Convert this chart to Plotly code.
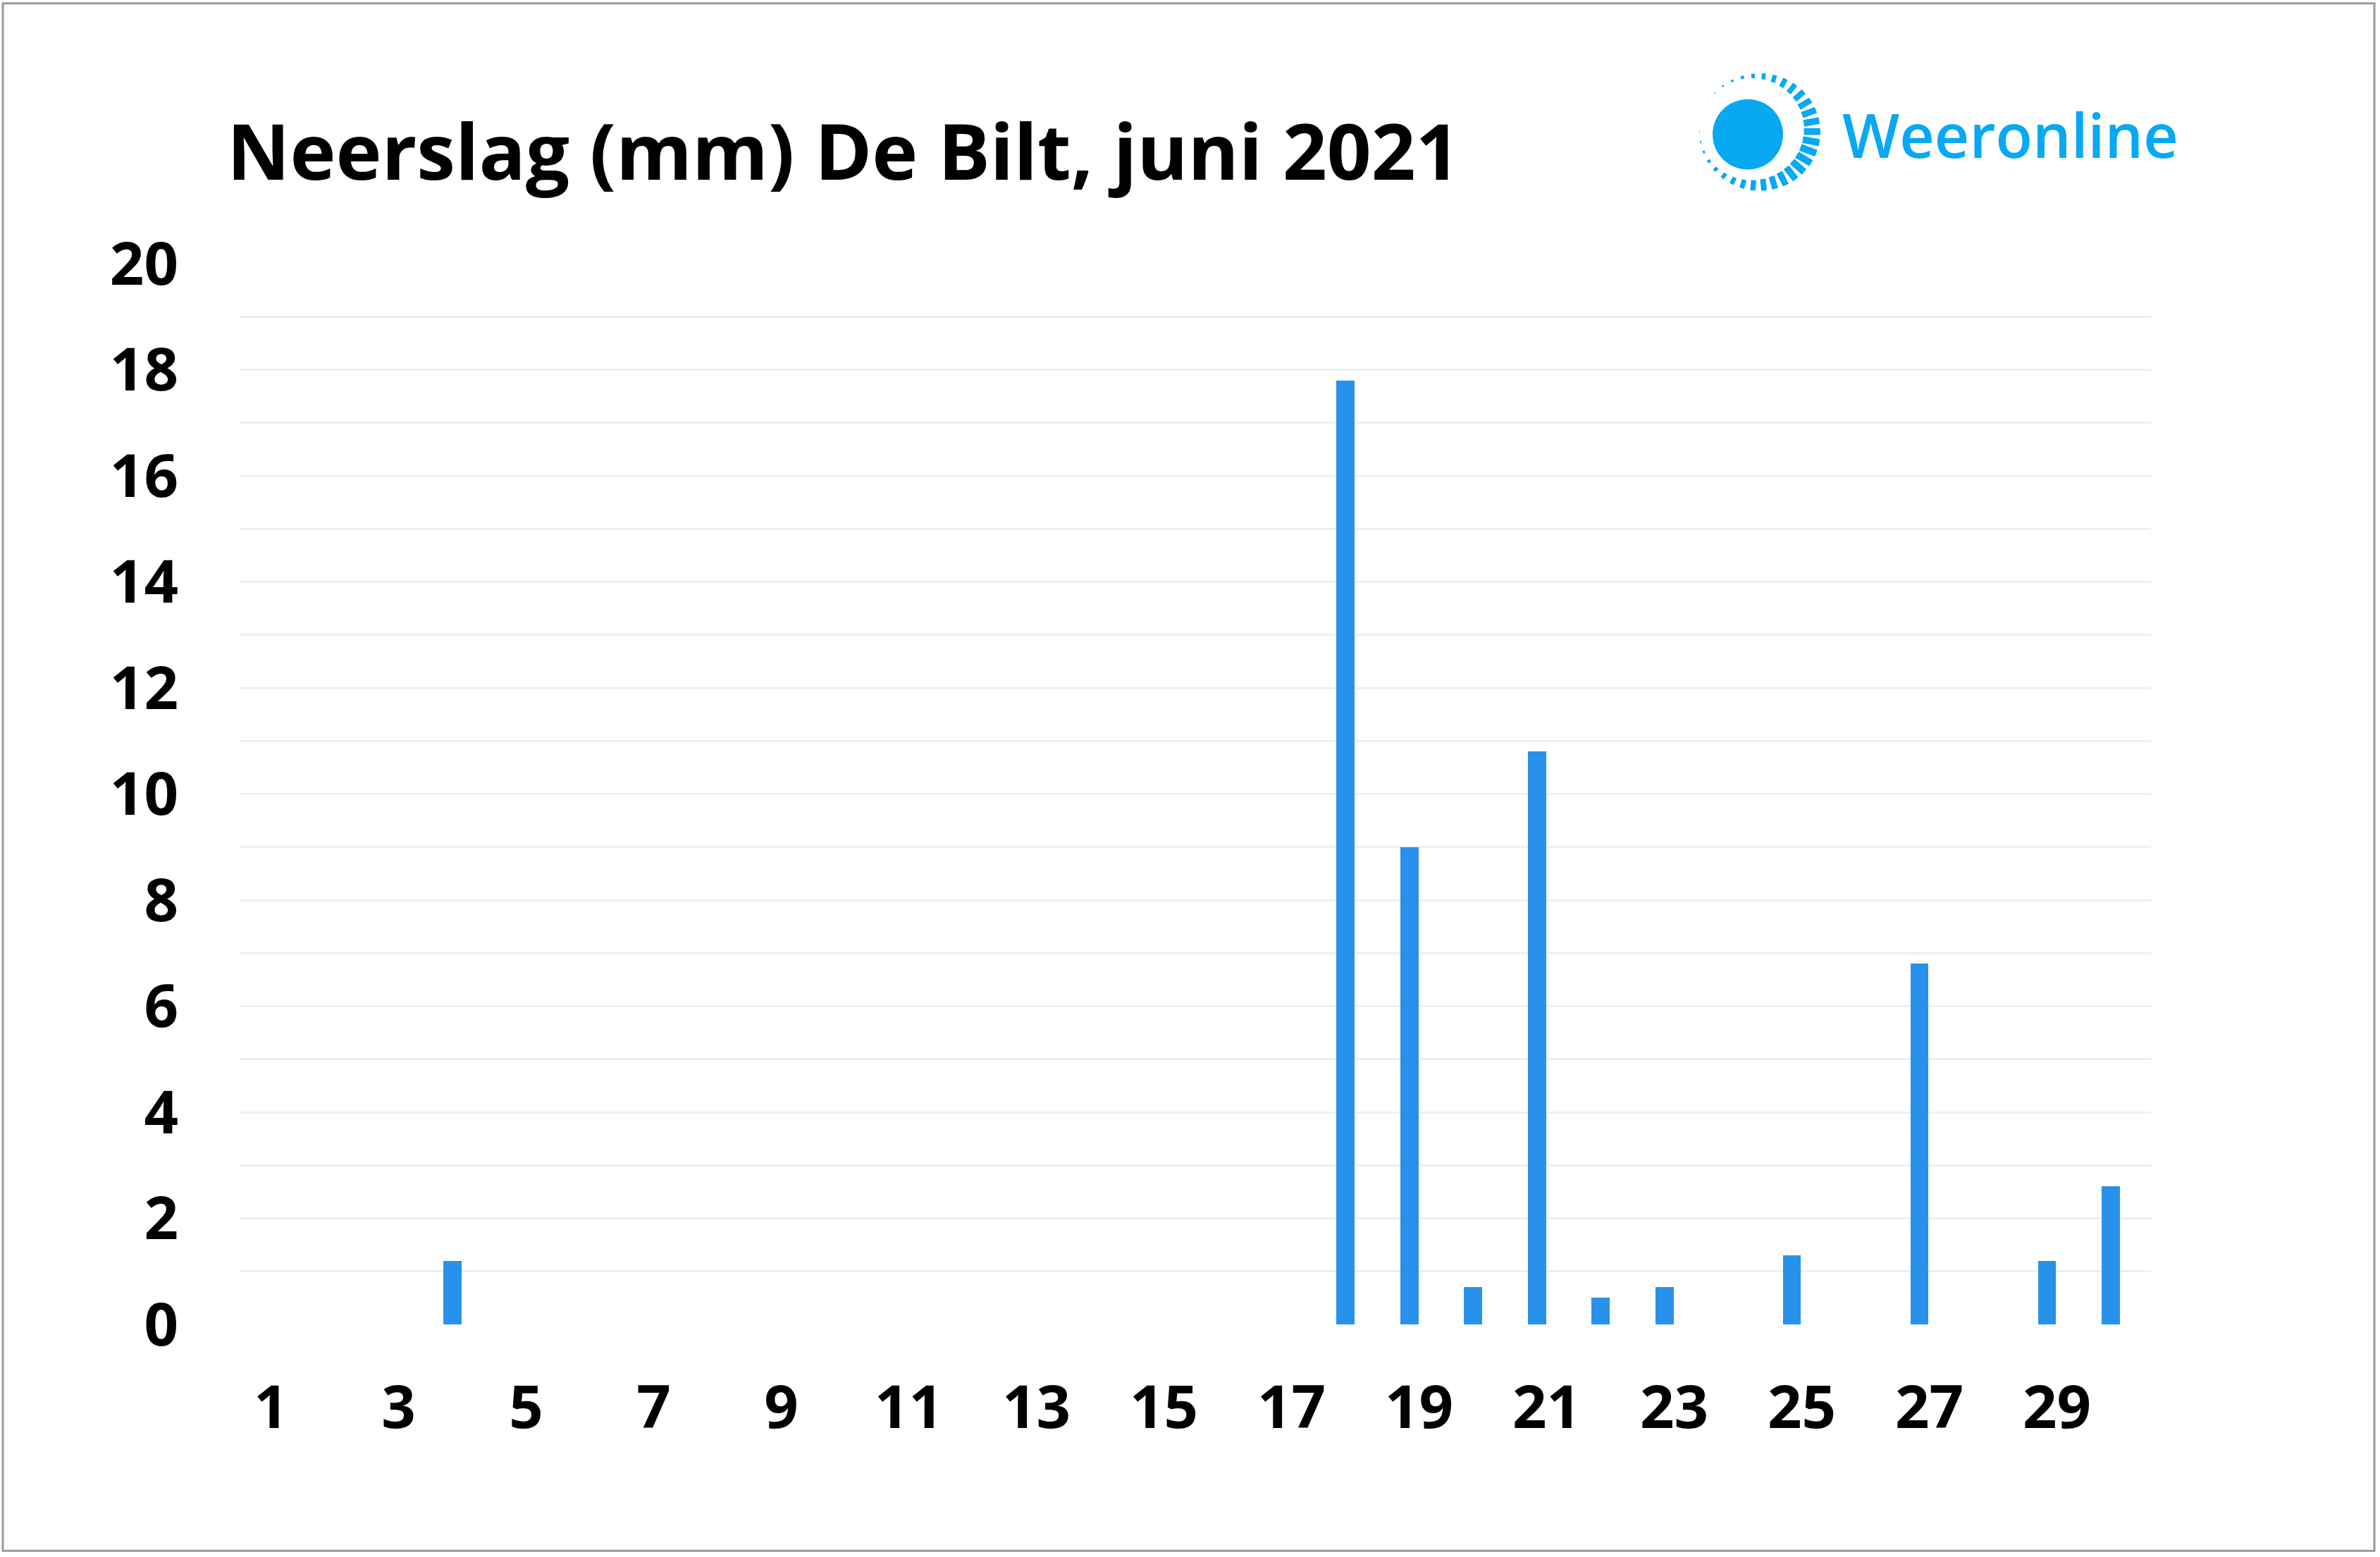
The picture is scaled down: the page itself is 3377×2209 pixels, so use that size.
import math
import plotly.graph_objects as go

# ---- data ----
days = list(range(1, 31))
rain_mm = [0, 0, 0, 1.2, 0, 0, 0, 0, 0, 0,
           0, 0, 0, 0, 0, 0, 0, 17.8, 9.0, 0.7,
           10.8, 0.5, 0.7, 0, 1.3, 0, 6.8, 0, 1.2, 2.6]
x_tickvals = list(range(1, 30, 2))
x_ticktext = [str(v) for v in x_tickvals]
y_tickvals = list(range(0, 21))
y_ticktext = [str(v) if v % 2 == 0 else "" for v in y_tickvals]
title_text = "Neerslag (mm) De Bilt, juni 2021"
logo_text = "Weeronline"

W, H = 3377, 2209
PL, PR = 340, 3052      # plot area left/right (px)
PT, PB = 373.5, 1879.5  # plot area top/bottom (px)
pw, ph = PR - PL, PB - PT

def px(x):
    return (x - PL) / pw

def py(y):
    return (PB - y) / ph

BAR = "#2892EA"
GRID = "#edf0f3"
LOGO = "#08A8F2"

fig = go.Figure()
fig.add_trace(go.Bar(x=days, y=rain_mm, width=0.287,
                     marker=dict(color=BAR, line=dict(width=0)),
                     hoverinfo="skip"))

shapes = []
# outer frame
shapes.append(dict(type="rect", xref="paper", yref="paper",
                   x0=px(4), x1=px(3369), y0=py(4), y1=py(2201),
                   line=dict(color="#9a9a9a", width=3), layer="above"))
# logo: filled sun
cx, cy, r = 2480, 190, 50
shapes.append(dict(type="circle", xref="paper", yref="paper",
                   x0=px(cx - r), x1=px(cx + r), y0=py(cy - r), y1=py(cy + r),
                   fillcolor=LOGO, line=dict(width=0), layer="above"))
# logo: dashed ring
rcx, rcy = 2495, 186
n = 34
for i in range(n):
    ang = 2 * math.pi * i / n  # 0 = right, counter-clockwise
    f = 0.5 + 0.5 * math.cos(ang + 0.35)
    rin = 84 - 20 * f
    rout = 84 + 4 * f
    wdt = 3 + 7 * f
    rx, ry = 1.0, 0.97
    x0 = rcx + rin * math.cos(ang) * rx
    y0 = rcy - rin * math.sin(ang) * ry
    x1 = rcx + rout * math.cos(ang) * rx
    y1 = rcy - rout * math.sin(ang) * ry
    shapes.append(dict(type="line", xref="paper", yref="paper",
                       x0=px(x0), x1=px(x1), y0=py(y0), y1=py(y1),
                       line=dict(color=LOGO, width=wdt), layer="above"))

annotations = [
    dict(text=title_text, xref="paper", yref="paper",
         x=px(320), y=py(288), xanchor="left", yanchor="bottom",
         showarrow=False,
         font=dict(family="Open Sans", size=110, color="#000000", weight=700)),
    dict(text=logo_text, xref="paper", yref="paper",
         x=px(2612), y=py(250), xanchor="left", yanchor="bottom",
         showarrow=False,
         font=dict(family="Open Sans", size=86, color=LOGO, weight=600)),
]

fig.update_layout(
    width=W, height=H,
    margin=dict(l=PL, r=W - PR, t=PT, b=H - PB, pad=0),
    paper_bgcolor="white", plot_bgcolor="white",
    showlegend=False,
    shapes=shapes, annotations=annotations,
    bargap=0,
)
fig.update_xaxes(
    range=[0.662, 30.63], tickmode="array",
    tickvals=x_tickvals, ticktext=x_ticktext,
    showgrid=False, zeroline=False, showline=False,
    ticks="outside", ticklen=44, tickcolor="rgba(0,0,0,0)",
    ticklabelshift=14,
    tickfont=dict(family="Open Sans", size=85, color="#000000", weight=700),
    fixedrange=True,
)
fig.update_yaxes(
    range=[0, 20], tickmode="array",
    tickvals=y_tickvals, ticktext=y_ticktext,
    showgrid=True, gridcolor=GRID, gridwidth=3,
    zeroline=False, showline=False,
    ticks="outside", ticklen=69, tickcolor="rgba(0,0,0,0)",
    tickfont=dict(family="Open Sans", size=85, color="#000000", weight=700),
    fixedrange=True,
)

fig.write_html("out.html", config={"displayModeBar": False},
               post_script="document.body.style.margin='0';document.body.style.overflow='hidden';")
